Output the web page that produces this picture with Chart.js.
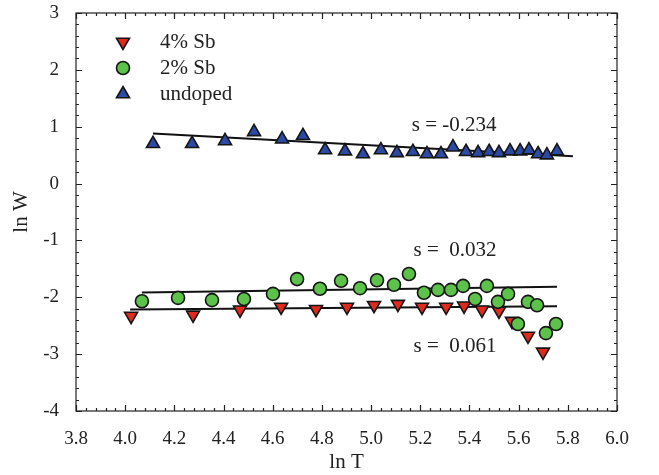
<!DOCTYPE html>
<html>
<head>
<meta charset="utf-8">
<script src="https://cdn.jsdelivr.net/npm/chart.js@4.4.0/dist/chart.umd.min.js"></script>
<style>
  html, body { margin: 0; padding: 0; background: #fff; }
</style>
</head>
<body>
<canvas id="lnPlot" width="659" height="475"></canvas>
<script>
// ln T / ln W for the three samples
const sb4X = [4.024, 4.276, 4.467, 4.634, 4.776, 4.902, 5.012, 5.109, 5.207, 5.305, 5.378, 5.451, 5.520, 5.573, 5.638, 5.699];
const sb4Y = [-2.33, -2.31, -2.22, -2.17, -2.21, -2.17, -2.14, -2.12, -2.17, -2.17, -2.15, -2.22, -2.24, -2.42, -2.68, -2.96];

const sb2X = [4.068, 4.215, 4.353, 4.483, 4.601, 4.699, 4.792, 4.878, 4.955, 5.024, 5.093, 5.154, 5.215,
              5.272, 5.325, 5.374, 5.423, 5.471, 5.516, 5.557, 5.597, 5.638, 5.675, 5.711, 5.752];
const sb2Y = [-2.07, -2.01, -2.05, -2.03, -1.94, -1.68, -1.85, -1.71, -1.84, -1.70, -1.78, -1.59, -1.92,
              -1.87, -1.87, -1.80, -2.03, -1.80, -2.08, -1.94, -2.47, -2.08, -2.14, -2.63, -2.47];

const undopedX = [4.113, 4.272, 4.406, 4.524, 4.638, 4.723, 4.813, 4.894, 4.967, 5.040, 5.105, 5.170, 5.227,
                  5.284, 5.333, 5.386, 5.435, 5.480, 5.520, 5.565, 5.606, 5.642, 5.679, 5.715, 5.756];
const undopedY = [0.70, 0.70, 0.75, 0.91, 0.78, 0.84, 0.59, 0.57, 0.52, 0.59, 0.54, 0.56, 0.52,
                  0.52, 0.64, 0.56, 0.54, 0.56, 0.54, 0.57, 0.57, 0.59, 0.52, 0.50, 0.57];

// straight-line fits: undoped, 2% Sb, 4% Sb
const fitSlopes = [-0.234, 0.061, 0.032];
const fitIntercepts = [1.841, -2.166, -2.342];
const fitFrom = [4.113, 4.068, 4.020];
const fitTo = [5.821, 5.756, 5.756];

const slopeTexts = ['s = -0.234', 's =  0.032', 's =  0.061'];
const slopeTextX = [5.51, 5.51, 5.51];
const slopeTextY = [1.03, -1.17, -2.87];

const seriesNames = ['4% Sb', '2% Sb', 'undoped'];

const SERIF = "'Liberation Serif', 'DejaVu Serif', serif";

function pairs(xs, ys) {
  return xs.map((x, i) => ({ x: x, y: ys[i] }));
}

function fitLine(i) {
  const a = fitIntercepts[i], s = fitSlopes[i];
  return [
    { x: fitFrom[i], y: a + s * fitFrom[i] },
    { x: fitTo[i], y: a + s * fitTo[i] }
  ];
}

const markerStyles = [
  { pointStyle: 'triangle', rotation: 180, radius: 7.5, color: '#e02a1e' },
  { pointStyle: 'circle', rotation: 0, radius: 6.5, color: '#5cc24a' },
  { pointStyle: 'triangle', rotation: 0, radius: 7.5, color: '#2c49a3' }
];

const pointSets = [pairs(sb4X, sb4Y), pairs(sb2X, sb2Y), pairs(undopedX, undopedY)];

const datasets = pointSets.map((pts, i) => ({
  label: seriesNames[i],
  data: pts,
  showLine: false,
  pointStyle: markerStyles[i].pointStyle,
  rotation: markerStyles[i].rotation,
  pointRadius: markerStyles[i].radius,
  pointBackgroundColor: markerStyles[i].color,
  pointBorderColor: '#151515',
  pointBorderWidth: 1.6,
  order: 3 - i
}));

fitSlopes.forEach((s, i) => {
  datasets.push({
    label: 'fit' + i,
    data: fitLine(i),
    showLine: true,
    borderColor: '#111',
    borderWidth: 2,
    pointRadius: 0,
    order: 10
  });
});

// box with inward ticks on all four sides
const frameTicks = {
  id: 'frameTicks',
  afterDatasetsDraw(chart) {
    const { ctx, chartArea: a, scales } = chart;
    ctx.save();
    ctx.strokeStyle = '#222';
    ctx.lineWidth = 1.2;
    ctx.strokeRect(a.left, a.top, a.right - a.left, a.bottom - a.top);
    ctx.beginPath();
    for (let k = 0; k <= 55; k++) {
      const v = 3.8 + k * 0.04;
      const px = Math.round(scales.x.getPixelForValue(v)) + 0.5;
      const len = k % 5 === 0 ? 6 : 3;
      ctx.moveTo(px, a.bottom); ctx.lineTo(px, a.bottom - len);
      ctx.moveTo(px, a.top); ctx.lineTo(px, a.top + len);
    }
    for (let k = 0; k <= 35; k++) {
      const v = -4 + k * 0.2;
      const py = Math.round(scales.y.getPixelForValue(v)) + 0.5;
      const len = k % 5 === 0 ? 6 : 3;
      ctx.moveTo(a.left, py); ctx.lineTo(a.left + len, py);
      ctx.moveTo(a.right, py); ctx.lineTo(a.right - len, py);
    }
    ctx.stroke();
    ctx.restore();
  }
};

// slope notes and the key in the upper left
const notesAndKey = {
  id: 'notesAndKey',
  afterDraw(chart) {
    const { ctx, chartArea: a, scales } = chart;
    ctx.save();
    ctx.fillStyle = '#222';
    ctx.font = '21px ' + SERIF;
    ctx.textAlign = 'right';
    ctx.textBaseline = 'middle';
    slopeTexts.forEach((t, i) => {
      ctx.fillText(t, scales.x.getPixelForValue(slopeTextX[i]), scales.y.getPixelForValue(slopeTextY[i]));
    });

    ctx.textAlign = 'left';
    seriesNames.forEach((name, i) => {
      const y = a.top + 29 + i * 26;
      const x = a.left + 47;
      const m = markerStyles[i];
      ctx.fillStyle = m.color;
      ctx.strokeStyle = '#151515';
      ctx.lineWidth = 1.6;
      Chart.helpers.drawPoint(ctx, { pointStyle: m.pointStyle, rotation: m.rotation, radius: m.radius, borderWidth: 1.6 }, x, y);
      ctx.fillStyle = '#222';
      ctx.fillText(name, a.left + 84, y);
    });
    ctx.restore();
  }
};

new Chart(document.getElementById('lnPlot'), {
  type: 'scatter',
  data: { datasets: datasets },
  options: {
    responsive: false,
    animation: false,
    layout: { padding: { top: 13, right: 42, left: 0, bottom: 0 } },
    plugins: { legend: { display: false }, tooltip: { enabled: false } },
    scales: {
      x: {
        type: 'linear',
        min: 3.8,
        max: 6.0,
        grid: { display: false },
        border: { display: false },
        ticks: {
          stepSize: 0.2,
          autoSkip: false,
          maxRotation: 0,
          padding: 9,
          color: '#222',
          font: { family: SERIF, size: 19 },
          callback: v => v.toFixed(1)
        },
        title: { display: true, text: 'ln T', color: '#222', font: { family: SERIF, size: 21 }, padding: { top: 0, bottom: 0 } },
        afterFit(scale) {
          scale.height = 64;
          scale.paddingLeft = 0;
          scale.paddingRight = 0;
        }
      },
      y: {
        type: 'linear',
        min: -4,
        max: 3,
        grid: { display: false },
        border: { display: false },
        ticks: {
          stepSize: 1,
          padding: 9,
          color: '#222',
          font: { family: SERIF, size: 19 },
          callback: v => String(v)
        },
        title: { display: true, text: 'ln W', color: '#222', font: { family: SERIF, size: 21 }, padding: { top: 9, bottom: 0 } },
        afterFit(scale) {
          scale.width = 76;
          scale.paddingTop = 0;
          scale.paddingBottom = 0;
        }
      }
    }
  },
  plugins: [frameTicks, notesAndKey]
});
</script>
</body>
</html>
